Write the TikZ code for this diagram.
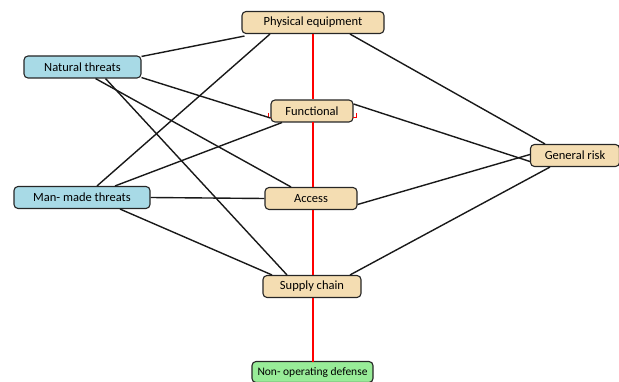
\documentclass[tikz,border=0pt]{standalone}
\usepackage{fontspec}
\setmainfont{Carlito}
\begin{document}
\begin{tikzpicture}[x=1pt,y=-1pt,
  box/.style={draw=black!85,line width=1.1pt,rounded corners=4pt,inner sep=0pt,font=\fontsize{12.5}{14}\selectfont,minimum height=22pt},
  link/.style={line width=1.4pt,black!90},
  redl/.style={line width=1.3pt,color=red}]
\useasboundingbox (0,0) rectangle (619,382);
\definecolor{tanc}{HTML}{F4DDB2}
\definecolor{bluc}{HTML}{A8DAE6}
\definecolor{grnc}{HTML}{98EC98}
\node[box,fill=tanc,minimum width=142pt] (pe) at (313,22.5) {Physical equipment};
\node[box,fill=bluc,minimum width=117pt] (nt) at (82.5,67) {Natural threats};
\node[box,fill=tanc,minimum width=82pt] (fu) at (312,111) {Functional};
\node[box,fill=tanc,minimum width=89pt] (gr) at (575,155.5) {General risk};
\node[box,fill=bluc,minimum width=136pt] (mm) at (82,197.5) {Man- made threats};
\node[box,fill=tanc,minimum width=92pt] (ac) at (311,198.5) {Access};
\node[box,fill=tanc,minimum width=98pt] (sc) at (312,286.5) {Supply chain};
\node[box,fill=grnc,minimum width=121pt,minimum height=21pt,font=\fontsize{11.5}{13}\selectfont] (no) at (312.5,372) {Non- operating defense};
\coordinate (r1) at (313,34);
\coordinate (r2) at (313,99.5);
\coordinate (r3) at (313,122.5);
\coordinate (r4) at (313,187);
\coordinate (r5) at (313,210);
\coordinate (r6) at (313,275);
\coordinate (r7) at (313,298);
\coordinate (r8) at (313,361.5);
\draw[redl] (r1) -- (r2);
\draw[redl] (r3) -- (r4);
\draw[redl] (r5) -- (r6);
\draw[redl] (r7) -- (r8);
\coordinate (rl) at (268,113);
\coordinate (rr) at (356,113);
\draw[red,line width=1pt] (rl) -- ++(0,5) -- ++(3,0);
\draw[red,line width=1pt] (rr) -- ++(0,5) -- ++(-3,0);
\draw[link] ([yshift=-1pt]nt.north east) -- ([xshift=3pt,yshift=-2pt]pe.south west);
\draw[link] ([yshift=1pt]nt.south east) -- ([yshift=-7pt]fu.west);
\draw[link] ([xshift=13pt]nt.south) -- ([xshift=-20pt]ac.north);
\draw[link] ([xshift=23pt]nt.south) -- ([xshift=-25pt]sc.north);
\draw[link] ([xshift=15pt]mm.north) -- ([xshift=-43pt]pe.south);
\draw[link] ([xshift=33pt]mm.north) -- ([xshift=-30pt]fu.south);
\draw[link] (mm.east) -- (ac.west);
\draw[link] ([xshift=38pt]mm.south) -- ([xshift=-40pt]sc.north);
\draw[link] ([xshift=37pt]pe.south) -- ([xshift=-30pt]gr.north);
\draw[link] ([yshift=7pt]fu.east) -- ([yshift=-6pt]gr.west);
\draw[link] ([yshift=-6pt]ac.east) -- ([yshift=1pt]gr.west);
\draw[link] ([xshift=38pt]sc.north) -- ([xshift=-25pt]gr.south);
\end{tikzpicture}
\end{document}
